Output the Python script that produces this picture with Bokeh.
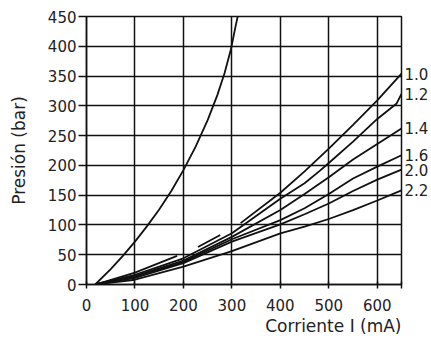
from bokeh.plotting import figure
from bokeh.models import FixedTicker, LinearAxis, Range1d, Title
from bokeh.embed import file_html
from bokeh.resources import INLINE

nan = float("nan")

# --- data ---
x_ticks = [0, 100, 200, 300, 400, 500, 600, 650]
y_ticks = [0, 50, 100, 150, 200, 250, 300, 350, 400, 450]

steep_ma = [18, 50, 75, 100, 125, 150, 175, 200, 225, 250, 270, 285, 298, 308, 312]
steep_bar = [0, 26, 48, 72, 98, 126, 157, 192, 231, 276, 318, 355, 395, 435, 450]

c10_ma = [18, 100, 187, nan, 230, 276, nan, 318, 400, 450, 500, 550, 600, 650]
c10_bar = [0, 20, 48, nan, 63, 83, nan, 103, 154, 190, 228, 268, 309, 354]

c12_ma = [18, 100, 200, 300, 400, 450, 480, 500, 550, 600, 640, 650]
c12_bar = [0, 16, 44, 86, 144, 170, 190, 204, 240, 278, 304, 320]

grid_ma = [18, 100, 200, 300, 400, 450, 500, 550, 600, 650]
c14_bar = [0, 14, 40, 80, 125, 152, 180, 210, 236, 262]
c16_bar = [0, 12, 38, 76, 108, 128, 152, 178, 198, 217]
c20_bar = [0, 11, 36, 72, 101, 118, 136, 157, 176, 193]
c22_bar = [0, 8, 30, 56, 86, 97, 110, 125, 141, 158]

curve_names = ["1.0", "1.2", "1.4", "1.6", "2.0", "2.2"]

FONT = "DejaVu Sans"
INK = "#111111"
TXT = "#222222"

p = figure(width=431, height=338, x_range=Range1d(0, 650), y_range=Range1d(0, 450),
           output_backend="svg", toolbar_location=None,
           min_border_left=86, min_border_right=30, min_border_top=16, min_border_bottom=54)

p.background_fill_color = "white"
p.border_fill_color = "white"
p.outline_line_color = INK
p.outline_line_width = 1.5

# axes
p.xaxis.ticker = FixedTicker(ticks=x_ticks)
p.yaxis.ticker = FixedTicker(ticks=y_ticks)
p.xaxis.major_label_overrides = {650: ""}
for ax in (p.xaxis[0], p.yaxis[0]):
    ax.axis_line_color = INK
    ax.axis_line_width = 1.5
    ax.major_tick_line_color = INK
    ax.major_tick_line_width = 1.5
    ax.minor_tick_line_color = None
    ax.major_label_text_font = FONT
    ax.major_label_text_font_size = "15px"
    ax.major_label_text_color = TXT
p.xaxis.major_tick_out = 4
p.xaxis.major_tick_in = 3
p.xaxis.major_label_standoff = 10
p.yaxis.major_tick_out = 8
p.yaxis.major_tick_in = 0
p.yaxis.major_label_standoff = 2

p.yaxis.axis_label = "Presión (bar)"
p.yaxis.axis_label_text_font = FONT
p.yaxis.axis_label_text_font_size = "17px"
p.yaxis.axis_label_text_font_style = "normal"
p.yaxis.axis_label_text_color = TXT
p.yaxis.axis_label_standoff = 16

# grid
p.xgrid.ticker = FixedTicker(ticks=x_ticks)
p.ygrid.ticker = FixedTicker(ticks=y_ticks)
for g in (p.xgrid[0], p.ygrid[0]):
    g.grid_line_color = INK
    g.grid_line_width = 1.5

# curves
LW = 1.8
p.line(steep_ma, steep_bar, line_color=INK, line_width=LW)
p.line(c10_ma, c10_bar, line_color=INK, line_width=LW)
p.line(c12_ma, c12_bar, line_color=INK, line_width=LW)
p.line(grid_ma, c14_bar, line_color=INK, line_width=LW)
p.line(grid_ma, c16_bar, line_color=INK, line_width=LW)
p.line(grid_ma, c20_bar, line_color=INK, line_width=LW)
p.line(grid_ma, c22_bar, line_color=INK, line_width=LW)

# curve labels at the line ends, via a right-hand axis
ends_y = [c10_bar[-1], c12_bar[-1], c14_bar[-1], c16_bar[-1], c20_bar[-1], c22_bar[-1]]
rax = LinearAxis(ticker=FixedTicker(ticks=ends_y),
                 major_label_overrides={v: n for v, n in zip(ends_y, curve_names)},
                 axis_line_color=None, major_tick_line_color=None, minor_tick_line_color=None,
                 major_tick_out=0, major_tick_in=0, major_label_standoff=3,
                 major_label_text_font=FONT, major_label_text_font_size="15px",
                 major_label_text_color=TXT)
p.add_layout(rax, "right")

# x axis title, right-aligned under the frame
p.add_layout(Title(text="Corriente I (mA)", align="right", text_font=FONT,
                   text_font_size="17px", text_font_style="normal", text_color=TXT,
                   standoff=0), "below")

open("out.html", "w").write(file_html(p, INLINE))
